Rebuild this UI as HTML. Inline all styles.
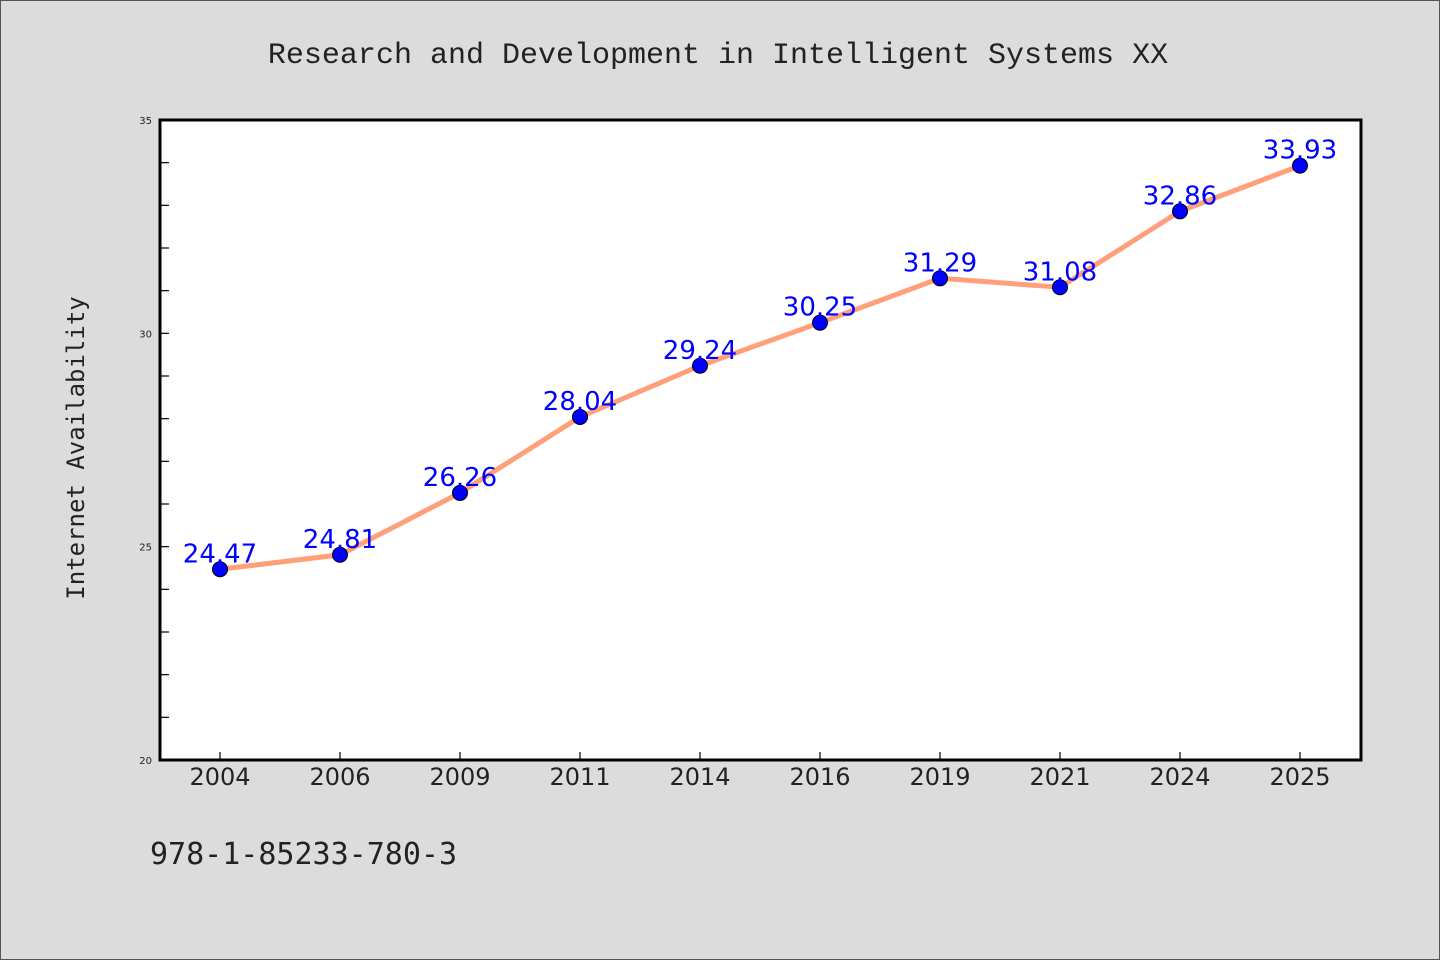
<!DOCTYPE html>
<html><head><meta charset="utf-8"><style>
body{margin:0;background:#dcdcdc}
svg{display:block}
</style></head><body>
<svg width="1440" height="960" xmlns="http://www.w3.org/2000/svg">
<rect x="0.5" y="0.5" width="1439" height="959" fill="#dcdcdc" stroke="#555"/>
<text x="718" y="63" text-anchor="middle" font-family="Liberation Mono, DejaVu Sans Mono, monospace" font-size="30" fill="#222">Research and Development in Intelligent Systems XX</text>
<rect x="160" y="120" width="1201" height="640" fill="#fff"/>
<g id="ticks"></g>
<g id="series"></g>
<rect x="160" y="120" width="1201" height="640" fill="none" stroke="#000" stroke-width="3"/>
<text transform="translate(84,448) rotate(-90)" text-anchor="middle" font-family="DejaVu Sans Mono, monospace" font-size="24" fill="#222">Internet Availability</text>
<text x="150" y="864" font-family="DejaVu Sans Mono, monospace" font-size="30" fill="#222">978-1-85233-780-3</text>
</svg>
<script>
const categories=["2004","2006","2009","2011","2014","2016","2019","2021","2024","2025"];
const values=[24.47,24.81,26.26,28.04,29.24,30.25,31.29,31.08,32.86,33.93];
const yTicks=[20,25,30,35];
const NS="http://www.w3.org/2000/svg";
const X0=160,X1=1361,Y0=760,Y1=120,YMIN=20,YMAX=35;
function xs(i){return X0+60+i*120;}
function ys(v){return Y0-(v-YMIN)/(YMAX-YMIN)*(Y0-Y1);}
function mk(t,a,p){const e=document.createElementNS(NS,t);for(const k in a)e.setAttribute(k,a[k]);p.appendChild(e);return e;}
const tg=document.getElementById('ticks'),sg=document.getElementById('series');
for(let v=YMIN;v<=YMAX;v++){
 const t=mk('line',{x1:X0,x2:X0+9,y1:ys(v),y2:ys(v),stroke:'#000','stroke-width':1.2},tg);
 
 
}
yTicks.forEach(v=>{
 const t=mk('text',{x:X0-8,y:ys(v)+4,'text-anchor':'end','font-family':'DejaVu Sans, sans-serif','font-size':10,fill:'#222'},tg);
 t.textContent=v;
 
 
});
categories.forEach((c,i)=>{
 const l=mk('line',{x1:xs(i),x2:xs(i),y1:Y0,y2:Y0-8,stroke:'#000','stroke-width':1.2},tg);
 
 
 const t=mk('text',{x:xs(i),y:785,'text-anchor':'middle','font-family':'DejaVu Sans, sans-serif','font-size':24,fill:'#222'},tg);
 t.textContent=c;
 
 
});
const pl=mk('polyline',{points:values.map((v,i)=>xs(i)+','+ys(v)).join(' '),fill:'none',stroke:'#ffa07a','stroke-width':5},sg);


values.forEach((v,i)=>{
 const c=mk('circle',{cx:xs(i),cy:ys(v),r:7.5,fill:'#0000ff',stroke:'#000','stroke-width':1},sg);
 
 
 const t=mk('text',{x:xs(i),y:ys(v)-7,'text-anchor':'middle','font-family':'DejaVu Sans, sans-serif','font-size':26,fill:'#0000ff'},sg);
 t.textContent=v.toFixed(2);
 
 
});
</script>
</body></html>
